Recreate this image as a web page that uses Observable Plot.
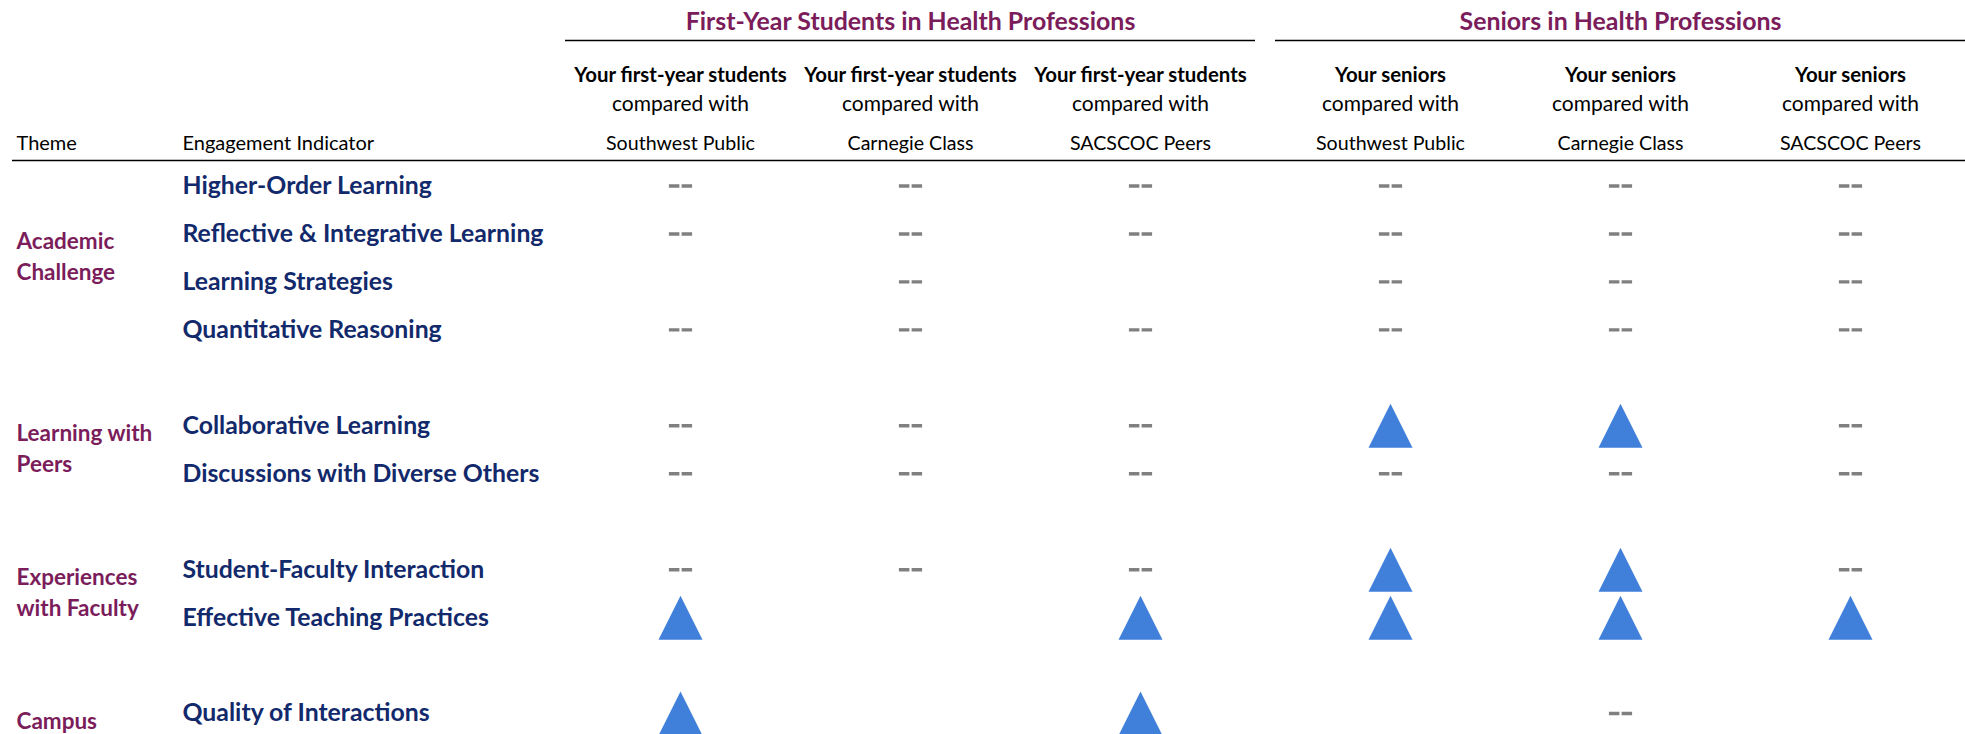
<!DOCTYPE html>
<html>
<head>
<meta charset="utf-8">
<script src="https://cdn.jsdelivr.net/npm/d3@7"></script>
<script src="https://cdn.jsdelivr.net/npm/@observablehq/plot@0.6"></script>
<style>
  html, body { margin: 0; padding: 0; background: #fff; overflow: hidden; }
</style>
</head>
<body>
<div id="chart"></div>
<script>
// ---------- data ----------
const cohorts = ["First-Year Students in Health Professions", "Seniors in Health Professions"];
const cohortLead = ["Your first-year students", "Your seniors"];
const comparisons = ["Southwest Public", "Carnegie Class", "SACSCOC Peers"];

const themes = ["Academic Challenge", "Learning with Peers", "Experiences with Faculty", "Campus Environment"];
const themeLabels = ["Academic\nChallenge", "Learning with\nPeers", "Experiences\nwith Faculty", "Campus\nEnvironment"];

const indicators = [
  "Higher-Order Learning", "Reflective & Integrative Learning", "Learning Strategies", "Quantitative Reasoning",
  "Collaborative Learning", "Discussions with Diverse Others",
  "Student-Faculty Interaction", "Effective Teaching Practices",
  "Quality of Interactions", "Supportive Environment"
];
const indicatorTheme = [
  "Academic Challenge", "Academic Challenge", "Academic Challenge", "Academic Challenge",
  "Learning with Peers", "Learning with Peers",
  "Experiences with Faculty", "Experiences with Faculty",
  "Campus Environment", "Campus Environment"
];

// "+" = significantly higher (triangle), "=" = no significant difference (--), null = blank / not visible
const firstYearVsSouthwest = ["=", "=", null, "=", "=", "=", "=", "+", "+", null];
const firstYearVsCarnegie  = ["=", "=", "=", "=", "=", "=", "=", null, null, null];
const firstYearVsSacscoc   = ["=", "=", null, "=", "=", "=", "=", "+", "+", null];
const seniorVsSouthwest    = ["=", "=", "=", "=", "+", "=", "+", "+", null, null];
const seniorVsCarnegie     = ["=", "=", "=", "=", "+", "=", "+", "+", "=", null];
const seniorVsSacscoc      = ["=", "=", "=", "=", "=", "=", "=", "+", null, null];

const series = [
  [firstYearVsSouthwest, firstYearVsCarnegie, firstYearVsSacscoc],
  [seniorVsSouthwest, seniorVsCarnegie, seniorVsSacscoc]
];

// ---------- derived tables ----------
const GAP = 20 / 230; // extra space between the two cohort groups, in column units
const colPos = (g, c) => g * (3 + GAP) + c;

// row index: indicators stacked, one blank row between themes
const rows = [];
let r = 0;
themes.forEach((t) => {
  indicators.forEach((name, i) => {
    if (indicatorTheme[i] === t) rows.push({indicator: name, theme: t, row: r++, idx: i});
  });
  r++; // spacer
});

const themeRows = themes.map((t, ti) => {
  const rr = rows.filter(d => d.theme === t).map(d => d.row);
  return {label: themeLabels[ti], row: d3.mean(rr)};
});

const headers = [];
cohorts.forEach((c, g) => comparisons.forEach((cmp, k) => {
  headers.push({x: colPos(g, k), lead: cohortLead[g], mid: "compared with", cmp});
}));
const groupHeads = cohorts.map((c, g) => ({title: c, x1: colPos(g, 0) - 0.5, x2: colPos(g, 2) + 0.5, xc: colPos(g, 1)}));

const cells = [];
rows.forEach(rw => {
  series.forEach((grp, g) => grp.forEach((arr, k) => {
    const v = arr[rw.idx];
    if (v != null) cells.push({x: colPos(g, k), row: rw.row, v});
  }));
});

// ---------- symbols ----------
const triangleUp = {
  draw(ctx, size) {
    const h = Math.sqrt(size / Math.PI); // half size = r
    ctx.moveTo(0, -h);
    ctx.lineTo(h, h);
    ctx.lineTo(-h, h);
    ctx.closePath();
  }
};
const doubleDash = {
  draw(ctx, size) {
    const s = Math.sqrt(size / Math.PI) / 12;
    const w = 10.5 * s, t = 3.4 * s, gap = 2.2 * s;
    ctx.rect(-gap / 2 - w, -t / 2, w, t);
    ctx.rect(gap / 2, -t / 2, w, t);
  }
};

// ---------- layout ----------
const W = 1965, H = 734, TOP = 160;
const ROW0 = 185.5, ROWH = 47.96;
const yDomain = [(TOP - ROW0) / ROWH, (H - ROW0) / ROWH];
// the view is cropped at the bottom: only label rows that fall inside it
const visibleRows = rows.filter(d => d.row <= yDomain[1] - 0.3);

const MAROON = "#7b1c5b";
const NAVY = "#12296b";
const BLUE = "#4080db";
const GREY = "#808080";
const FONT = "Lato, 'Open Sans', sans-serif";

const chart = Plot.plot({
  width: W,
  height: H,
  marginTop: TOP,
  marginBottom: 0,
  marginLeft: 0,
  marginRight: 0,
  style: {fontFamily: FONT, background: "#fff"},
  x: {type: "linear", domain: [-0.5, colPos(1, 2) + 0.5], range: [565, W], axis: null},
  y: {type: "linear", domain: yDomain, range: [TOP, H], axis: null},
  marks: [
    // header bottom rule
    Plot.ruleY([yDomain[0]], {insetLeft: 12, stroke: "#000", strokeWidth: 1.6}),
    // cohort group rules
    Plot.ruleY(groupHeads, {y: () => yDomain[0], x1: "x1", x2: "x2", dy: -120, stroke: "#000", strokeWidth: 1.6}),
    // cohort titles
    Plot.text(groupHeads, {x: "xc", text: "title", frameAnchor: "top", lineAnchor: "middle", dy: -138, fill: MAROON, fontWeight: "bold", fontSize: 24.9}),
    // column headers
    Plot.text(headers, {x: "x", text: "lead", frameAnchor: "top", lineAnchor: "middle", dy: -85, fill: "#000", fontWeight: "bold", fontSize: 20.4}),
    Plot.text(headers, {x: "x", text: "mid", frameAnchor: "top", lineAnchor: "middle", dy: -56, fill: "#000", fontSize: 21}),
    Plot.text(headers, {x: "x", text: "cmp", frameAnchor: "top", lineAnchor: "middle", dy: -17, fill: "#000", fontSize: 19.6}),
    // left column headers
    Plot.text(["Theme"], {frameAnchor: "top-left", lineAnchor: "middle", dx: 16, dy: -17, textAnchor: "start", fill: "#000", fontSize: 20}),
    Plot.text(["Engagement Indicator"], {frameAnchor: "top-left", lineAnchor: "middle", dx: 182, dy: -17, textAnchor: "start", fill: "#000", fontSize: 20}),
    // theme labels
    Plot.text(themeRows, {y: "row", text: "label", frameAnchor: "left", dx: 16, dy: -3, textAnchor: "start", fill: MAROON, fontWeight: "bold", fontSize: 22.5, lineHeight: 1.38}),
    // indicator labels
    Plot.text(visibleRows, {y: "row", text: "indicator", frameAnchor: "left", dx: 182, textAnchor: "start", fill: NAVY, fontWeight: "bold", fontSize: 24.8}),
    // no significant difference
    Plot.dot(cells.filter(d => d.v === "="), {x: "x", y: "row", symbol: doubleDash, r: 12, fill: GREY, stroke: "none"}),
    // significantly higher
    Plot.dot(cells.filter(d => d.v === "+"), {x: "x", y: "row", symbol: triangleUp, r: 22, fill: BLUE, stroke: "none"})
  ]
});
document.getElementById("chart").append(chart);
</script>
</body>
</html>
